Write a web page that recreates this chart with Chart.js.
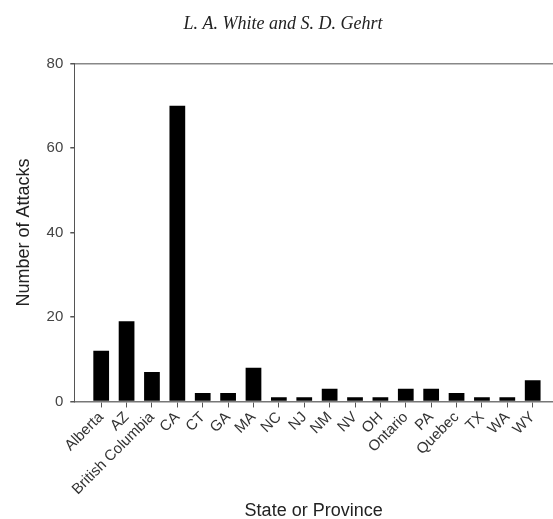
<!DOCTYPE html>
<html>
<head>
<meta charset="utf-8">
<title>Attacks by State or Province</title>
<script src="https://cdn.jsdelivr.net/npm/chart.js@4"></script>
<style>
    html, body { margin: 0; padding: 0; background: #fff; }
    #wrap { width: 553px; height: 519px; position: relative; }
</style>
</head>
<body>
<div id="wrap"><canvas id="attacksChart"></canvas></div>
<script>
// Data
const categories = ['Alberta', 'AZ', 'British Columbia', 'CA', 'CT', 'GA', 'MA', 'NC', 'NJ',
    'NM', 'NV', 'OH', 'Ontario', 'PA', 'Quebec', 'TX', 'WA', 'WY'];
const attacks = [12, 19, 7, 70, 2, 2, 8, 1, 1, 3, 1, 1, 3, 3, 2, 1, 1, 5];
const yTicks = [0, 20, 40, 60, 80];

const sans = 'Liberation Sans, Arial, sans-serif';

document.addEventListener('DOMContentLoaded', function () {
    const ctx = document.getElementById('attacksChart').getContext('2d');
    new Chart(ctx, {
        type: 'bar',
        data: {
            datasets: [{
                label: 'Number of Attacks',
                data: attacks.map((v, i) => ({ x: i, y: v })),
                backgroundColor: '#000',
                borderWidth: 0,
                categoryPercentage: 1,
                barPercentage: 0.62
            }]
        },
        options: {
            responsive: true,
            maintainAspectRatio: false,
            animation: false,
            layout: { padding: { left: 13, right: 0, top: 0, bottom: 0 } },
            plugins: {
                legend: { display: false },
                tooltip: { enabled: false },
                title: {
                    display: true,
                    text: 'L. A. White and S. D. Gehrt',
                    color: '#222',
                    font: { family: 'Liberation Serif, Times New Roman, serif', size: 18, style: 'italic', weight: 'normal' },
                    padding: { top: 13, bottom: 29 }
                }
            },
            scales: {
                x: {
                    type: 'linear',
                    offset: false,
                    min: -1.06,
                    max: 17.8,
                    afterBuildTicks: scale => {
                        scale.ticks = categories.map((c, i) => ({ value: i }));
                    },
                    ticks: {
                        autoSkip: false,
                        minRotation: 45,
                        maxRotation: 45,
                        color: '#333',
                        font: { family: sans, size: 15 },
                        padding: 1,
                        callback: value => categories[value]
                    },
                    grid: {
                        offset: false,
                        drawOnChartArea: false,
                        tickLength: 6,
                        tickColor: '#555'
                    },
                    border: { color: '#777', width: 1.5 },
                    title: {
                        display: true,
                        text: 'State or Province',
                        color: '#222',
                        font: { family: sans, size: 18 },
                        padding: { top: 1, bottom: -3 }
                    }
                },
                y: {
                    min: 0,
                    max: 80,
                    afterBuildTicks: scale => {
                        scale.ticks = yTicks.map(v => ({ value: v }));
                    },
                    ticks: {
                        color: '#444',
                        font: { family: sans, size: 15 },
                        padding: 7
                    },
                    grid: {
                        color: c => (c.tick && c.tick.value === 80) ? '#888' : 'rgba(0,0,0,0)',
                        lineWidth: 1.5,
                        tickLength: 4,
                        tickColor: '#555'
                    },
                    border: { color: '#555', width: 1 },
                    title: {
                        display: true,
                        text: 'Number of Attacks',
                        color: '#222',
                        font: { family: sans, size: 18 },
                        padding: { top: 0, bottom: 5 }
                    }
                }
            }
        }
    });
});
</script>
</body>
</html>
